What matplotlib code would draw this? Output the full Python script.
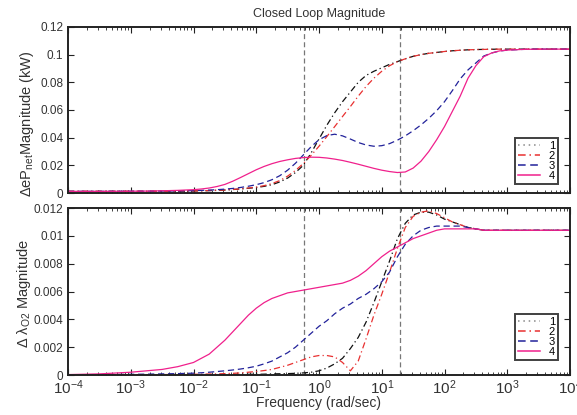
import numpy as np
import matplotlib
matplotlib.use("Agg")
import matplotlib.pyplot as plt
from matplotlib.ticker import LogLocator, NullFormatter, FuncFormatter, FixedLocator
from matplotlib.lines import Line2D

plt.rcParams['font.family'] = ['Liberation Sans', 'DejaVu Sans']
plt.rcParams['mathtext.fontset'] = 'custom'
plt.rcParams['mathtext.rm'] = 'Liberation Sans'
plt.rcParams['mathtext.it'] = 'Liberation Sans:italic'
plt.rcParams['mathtext.bf'] = 'Liberation Sans:bold'

# ---------------- data ----------------
log_freq = [-4, -3.5, -3, -2.75, -2.5, -2.25,
            -2, -1.875, -1.75, -1.625, -1.5, -1.375, -1.25, -1.125,
            -1, -0.875, -0.75, -0.625, -0.5, -0.375, -0.25, -0.125,
            0, 0.125, 0.25, 0.375, 0.5, 0.625, 0.75, 0.875,
            1, 1.125, 1.25, 1.375, 1.5, 1.625, 1.75, 1.875,
            2, 2.125, 2.25, 2.375, 2.5, 2.625, 2.75, 2.875,
            3, 3.25, 3.5, 4]

# top panel: delta eP_net magnitude (kW)
p_case1 = [0.0012, 0.0012, 0.0012, 0.0012, 0.0013, 0.0014,
           0.0015, 0.0016, 0.0017, 0.0019, 0.0021, 0.0025, 0.0029, 0.0034,
           0.0040, 0.0048, 0.0060, 0.0080, 0.0108, 0.0148, 0.0200, 0.0290,
           0.0390, 0.0490, 0.0580, 0.0660, 0.0730, 0.0800, 0.0850, 0.0880,
           0.0905, 0.0930, 0.0950, 0.0970, 0.0988, 0.1000, 0.1010, 0.1016,
           0.1023, 0.1028, 0.1032, 0.1035, 0.1037, 0.1038, 0.1039, 0.1040,
           0.104, 0.104, 0.104, 0.104]
p_case2 = [0.0012, 0.0012, 0.0012, 0.0012, 0.0013, 0.0014,
           0.0015, 0.0016, 0.0018, 0.0020, 0.0022, 0.0026, 0.0030, 0.0036,
           0.0043, 0.0053, 0.0068, 0.0090, 0.0122, 0.0163, 0.0213, 0.0272,
           0.0338, 0.0408, 0.0480, 0.0553, 0.0625, 0.0700, 0.0770, 0.0830,
           0.0880, 0.0920, 0.0950, 0.0970, 0.0988, 0.1000, 0.1010, 0.1016,
           0.1023, 0.1028, 0.1032, 0.1035, 0.1037, 0.1038, 0.1039, 0.1040,
           0.104, 0.104, 0.104, 0.104]
p_case3 = [0.0012, 0.0012, 0.0013, 0.0013, 0.0014, 0.0015,
           0.0017, 0.0019, 0.0021, 0.0024, 0.0028, 0.0033, 0.0040, 0.0049,
           0.0060, 0.0075, 0.0096, 0.0125, 0.0165, 0.0215, 0.0275, 0.0335,
           0.0385, 0.0415, 0.0425, 0.0413, 0.0390, 0.0365, 0.0347, 0.0338,
           0.0342, 0.0357, 0.0382, 0.0413, 0.0450, 0.0492, 0.0540, 0.0595,
           0.0660, 0.0740, 0.0825, 0.0890, 0.0940, 0.0990, 0.1012, 0.1026,
           0.1033, 0.1038, 0.104, 0.104]
p_case4 = [0.0012, 0.0012, 0.0013, 0.0014, 0.0016, 0.0019,
           0.0024, 0.0029, 0.0036, 0.0047, 0.0062, 0.0085, 0.0112, 0.0140,
           0.0168, 0.0192, 0.0212, 0.0228, 0.0240, 0.0250, 0.0256, 0.0259,
           0.0258, 0.0253, 0.0245, 0.0235, 0.0222, 0.0208, 0.0193, 0.0178,
           0.0165, 0.0155, 0.0148, 0.0152, 0.0180, 0.0230, 0.0300, 0.0385,
           0.0480, 0.0590, 0.0700, 0.0830, 0.0920, 0.0985, 0.1012, 0.1027,
           0.1033, 0.1038, 0.104, 0.104]

# bottom panel: delta lambda_O2 magnitude
l_case1 = [0.00001, 0.00001, 0.00001, 0.00001, 0.00002, 0.00002,
           0.00002, 0.00003, 0.00003, 0.00003, 0.00003, 0.00004, 0.00004, 0.00005,
           0.00005, 0.00006, 0.00008, 0.00009, 0.0001, 0.00012, 0.00015, 0.0002,
           0.0003, 0.0005, 0.0008, 0.0012, 0.0019, 0.0027, 0.0038, 0.0052,
           0.0067, 0.0082, 0.0098, 0.0109, 0.0115, 0.0117, 0.0117, 0.0115,
           0.0112, 0.0110, 0.0108, 0.0106, 0.0105, 0.0104, 0.0104, 0.0104,
           0.0104, 0.0104, 0.0104, 0.0104]
l_case2 = [0.00001, 0.00001, 0.00002, 0.00002, 0.00003, 0.00004,
           0.00005, 0.00006, 0.00007, 0.00008, 0.0001, 0.00012, 0.00015, 0.0002,
           0.00025, 0.00032, 0.0004, 0.00055, 0.0007, 0.0009, 0.0011, 0.0013,
           0.0014, 0.0014, 0.0013, 0.0009, 0.0003, 0.0010, 0.0026, 0.0043,
           0.0058, 0.0074, 0.0091, 0.0106, 0.0114, 0.0117, 0.0118, 0.0116,
           0.0113, 0.0110, 0.0108, 0.0106, 0.0105, 0.0104, 0.0104, 0.0104,
           0.0104, 0.0104, 0.0104, 0.0104]
l_case3 = [0.00002, 0.00003, 0.00005, 0.00006, 0.00008, 0.0001,
           0.00013, 0.00016, 0.0002, 0.00025, 0.0003, 0.00036, 0.00043, 0.00052,
           0.00063, 0.0008, 0.001, 0.0013, 0.0016, 0.002, 0.0025, 0.003,
           0.0035, 0.0039, 0.0044, 0.0048, 0.0051, 0.0055, 0.0058, 0.0062,
           0.0067, 0.0074, 0.0085, 0.0094, 0.0100, 0.0104, 0.0106, 0.0107,
           0.0107, 0.0107, 0.0107, 0.0106, 0.0105, 0.0104, 0.0104, 0.0104,
           0.0104, 0.0104, 0.0104, 0.0104]
l_case4 = [0.00003, 0.00008, 0.0002, 0.0003, 0.0004, 0.0006,
           0.0009, 0.0012, 0.0015, 0.0020, 0.0025, 0.0031, 0.0037, 0.0043,
           0.0048, 0.0052, 0.0055, 0.0057, 0.0059, 0.0060, 0.0061, 0.0062,
           0.0063, 0.0064, 0.0065, 0.0066, 0.0068, 0.0071, 0.0075, 0.0080,
           0.0085, 0.0089, 0.0092, 0.0095, 0.0098, 0.0100, 0.0102, 0.0104,
           0.0105, 0.0105, 0.0105, 0.0105, 0.0105, 0.0104, 0.0104, 0.0104,
           0.0104, 0.0104, 0.0104, 0.0104]

case_labels = ['1', '2', '3', '4']
marker_freqs = [0.577, 19.5]
top_yticks = [0, 0.02, 0.04, 0.06, 0.08, 0.1, 0.12]
bot_yticks = [0, 0.002, 0.004, 0.006, 0.008, 0.01, 0.012]

freq = 10.0 ** np.array(log_freq)

# ---------------- styles ----------------
colors = ['#111111', '#e83030', '#22229a', '#f0208c']
styles = [(0, (5, 2.5, 1, 2.5)), (0, (5, 2.5, 1, 2.5)), (0, (5, 3)), '-']
legend_styles = [(0, (1, 2.5)), (0, (5, 2.5, 1, 2.5)), (0, (5, 3)), '-']
legend_colors = ['#888888', '#e83030', '#22229a', '#f0208c']

fig = plt.figure(figsize=(5.77, 4.15), dpi=100)
ax1 = fig.add_axes([68/577, 1-193/415, 502/577, 166/415])
ax2 = fig.add_axes([68/577, 1-375/415, 502/577, 167/415])

fmt = FuncFormatter(lambda v, p: '%g' % v)

for ax, series, yt in ((ax1, [p_case1, p_case2, p_case3, p_case4], top_yticks),
                       (ax2, [l_case1, l_case2, l_case3, l_case4], bot_yticks)):
    for mf in marker_freqs:
        ax.axvline(mf, color='#777777', lw=0.9, ls=(0, (4, 2.5)), zorder=1)
    for s, c, st in zip(series, colors, styles):
        ax.plot(freq, s, color=c, ls=st, lw=0.9, zorder=2)
    ax.set_xscale('log')
    ax.set_xlim(1e-4, 1e4)
    ax.set_ylim(yt[0], yt[-1])
    ax.yaxis.set_major_locator(FixedLocator(yt))
    ax.yaxis.set_major_formatter(fmt)
    ax.xaxis.set_major_locator(LogLocator(base=10, numticks=20))
    ax.xaxis.set_minor_locator(LogLocator(base=10, subs=np.arange(2, 10), numticks=20))
    ax.xaxis.set_minor_formatter(NullFormatter())
    ax.tick_params(which='both', direction='in', top=True, right=True, colors='#222222',
                   labelsize=8.5, labelcolor='#333333')
    ax.tick_params(which='major', length=4.5, width=0.8)
    ax.tick_params(which='minor', length=2.5, width=0.6)
    for sp in ax.spines.values():
        sp.set_linewidth(1.4)
        sp.set_color('#222222')
    handles = [Line2D([], [], color=lc, ls=ls, lw=1.1) for lc, ls in zip(legend_colors, legend_styles)]
    leg = ax.legend(handles, case_labels, loc='lower right', frameon=True, fancybox=False,
                    fontsize=8, handlelength=2.0, handletextpad=0.8, labelspacing=0.0,
                    borderpad=0.25, borderaxespad=0, markerfirst=True)
    leg.get_frame().set_edgecolor('#111111')
    leg.get_frame().set_linewidth(1.4)

ax1.get_legend().set_bbox_to_anchor((0.976, 0.054), transform=ax1.transAxes)
ax2.get_legend().set_bbox_to_anchor((0.976, 0.09), transform=ax2.transAxes)

ax1.tick_params(axis='x', labelbottom=False)
ax2.tick_params(axis='x', labelsize=11, pad=2.5)

ax1.set_title('Closed Loop Magnitude', fontsize=9, color='#333333', pad=7)
ax1.set_ylabel('ΔeP$_{\\mathrm{net}}$Magnitude (kW)', fontsize=10.5, color='#333333')
ax2.set_ylabel('Δ λ$_{\\mathrm{O2}}$ Magnitude', fontsize=10.5, color='#333333')
ax1.yaxis.set_label_coords(-0.064, 0.42)
ax2.yaxis.set_label_coords(-0.070, 0.49)
ax2.set_xlabel('Frequency (rad/sec)', fontsize=10, color='#333333')
ax2.xaxis.set_label_coords(0.5, -0.128)

fig.savefig('out.png', dpi=100)
